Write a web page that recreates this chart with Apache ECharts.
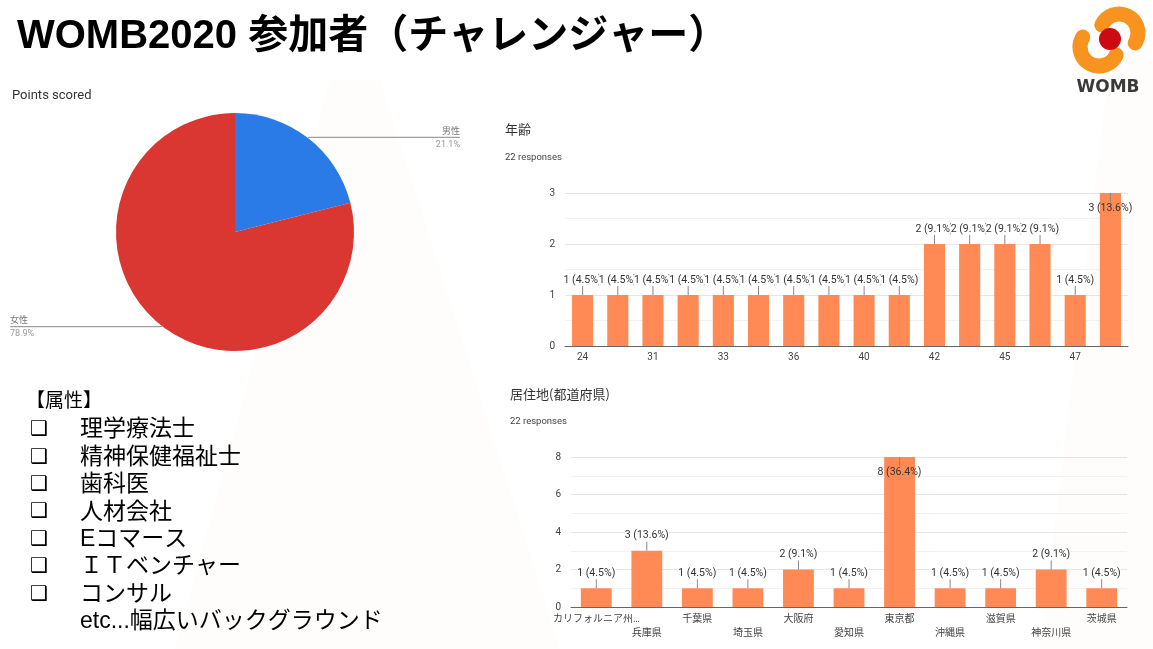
<!DOCTYPE html>
<html>
<head>
<meta charset="utf-8">
<script src="https://cdn.jsdelivr.net/npm/echarts@6/dist/echarts.min.js"></script>
<style>
html,body{margin:0;padding:0;background:#fff;}
#c{width:1153px;height:649px;}
</style>
</head>
<body>
<div id="c"></div>
<script>
// ---- data ----
const titleText = 'WOMB2020 参加者（チャレンジャー）';
const pieTitle = 'Points scored';
const pieNames = ['男性', '女性'];
const pieValues = [4, 15];

const ageTitle = '年齢';
const ageResponses = '22 responses';
const ageCategories = ['24', '30', '31', '32', '33', '35', '36', '38', '40', '41', '42', '43', '45', '46', '47', '50'];
const ageCounts = [1, 1, 1, 1, 1, 1, 1, 1, 1, 1, 2, 2, 2, 2, 1, 3];
const ageTicks = [0, 1, 2, 3];

const prefTitle = '居住地(都道府県)';
const prefResponses = '22 responses';
const prefCategories = ['カリフォルニア州…', '兵庫県', '千葉県', '埼玉県', '大阪府', '愛知県', '東京都', '沖縄県', '滋賀県', '神奈川県', '茨城県'];
const prefCounts = [1, 3, 1, 1, 2, 1, 8, 1, 1, 2, 1];
const prefTicks = [0, 2, 4, 6, 8];

const attrHeader = '【属性】';
const attrItems = ['理学療法士', '精神保健福祉士', '歯科医', '人材会社', 'Eコマース', 'ＩＴベンチャー', 'コンサル'];
const attrTail = 'etc...幅広いバックグラウンド';

// ---- helpers ----
const BAR = '#FF8A55';
const AX_FONT = 'Roboto, "Noto Sans CJK JP", sans-serif';

function annotSeries(idx, counts, yMax, withBg) {
  const total = counts.reduce((a, b) => a + b, 0);
  return {
    type: 'custom', xAxisIndex: idx, yAxisIndex: idx, z: 5, silent: true,
    data: counts.map((v, i) => [i, v]),
    renderItem: function (params, api) {
      const v = api.value(1);
      const p = api.coord([api.value(0), v]);
      const txt = v + ' (' + (v / total * 100).toFixed(1) + '%)';
      const inside = v >= yMax;
      const dir = inside ? 1 : -1;
      return {
        type: 'group',
        children: [
          { type: 'line', shape: { x1: p[0], y1: p[1], x2: p[0], y2: p[1] + dir * 9 },
            style: { stroke: '#888', lineWidth: 1 } },
          { type: 'text', x: p[0], y: p[1] + dir * 15,
            style: { text: txt, align: 'center', verticalAlign: 'middle',
              fontSize: 10.5, fontFamily: AX_FONT, fill: '#333',
              backgroundColor: (withBg && !inside) ? '#fff' : null } }
        ]
      };
    }
  };
}

const chart = echarts.init(document.getElementById('c'), null, { renderer: 'canvas' });

const graphics = [];
// faint background shapes
graphics.push({ type: 'polygon', z: -10, silent: true, shape: { points: [[175, 649], [330, 80], [380, 80], [560, 649]] }, style: { fill: '#fefdfb' } });
graphics.push({ type: 'polygon', z: -10, silent: true, shape: { points: [[1040, 649], [1110, 60], [1153, 60], [1153, 649]] }, style: { fill: '#fefdfb' } });
// title
graphics.push({ type: 'text', left: 17, top: 17, style: { text: titleText, font: 'bold 40px "Liberation Sans", "Noto Sans CJK JP", sans-serif', fill: '#000' } });
graphics.push({ type: 'text', left: 12, top: 89, style: { text: pieTitle, font: '13px Roboto, sans-serif', fill: '#333' } });
// chart titles
graphics.push({ type: 'text', left: 505, top: 123, style: { text: ageTitle, font: '13px "Noto Sans CJK JP", sans-serif', fill: '#333' } });
graphics.push({ type: 'text', left: 505, top: 153, style: { text: ageResponses, font: '9.5px Roboto, sans-serif', fill: '#444' } });
graphics.push({ type: 'text', left: 510, top: 388, style: { text: prefTitle, font: '13px "Noto Sans CJK JP", sans-serif', fill: '#333' } });
graphics.push({ type: 'text', left: 510, top: 417, style: { text: prefResponses, font: '9.5px Roboto, sans-serif', fill: '#444' } });
// attribute list
graphics.push({ type: 'text', x: 26, y: 402, style: { text: attrHeader, font: '19px "Liberation Sans", "Noto Sans CJK JP", sans-serif', fill: '#000', verticalAlign: 'middle' } });
attrItems.forEach((t, i) => {
  const y = 430 + i * 27.4;
  graphics.push({ type: 'text', x: 30, y: y, style: { text: '❑', font: '20px "DejaVu Sans", sans-serif', fill: '#000', verticalAlign: 'middle' } });
  graphics.push({ type: 'text', x: 80, y: y, style: { text: t, font: '23px "Liberation Sans", "Noto Sans CJK JP", sans-serif', fill: '#000', verticalAlign: 'middle' } });
});
graphics.push({ type: 'text', x: 80, y: 430 + 7 * 27.4, style: { text: attrTail, font: '23px "Liberation Sans", "Noto Sans CJK JP", sans-serif', fill: '#000', verticalAlign: 'middle' } });
// logo
graphics.push({ type: 'arc', shape: { cx: 1119, cy: 33, r: 19, startAngle: -2.7, endAngle: 0.55, clockwise: true }, style: { stroke: '#F7931E', lineWidth: 15, lineCap: 'round', fill: null } });
graphics.push({ type: 'arc', shape: { cx: 1099, cy: 47, r: 19, startAngle: 0.44, endAngle: 3.69, clockwise: true }, style: { stroke: '#F7931E', lineWidth: 15, lineCap: 'round', fill: null } });
graphics.push({ type: 'circle', shape: { cx: 1110, cy: 39, r: 11 }, style: { fill: '#CC0A14' } });
graphics.push({ type: 'text', x: 1108, y: 88, style: { text: 'WOMB', font: 'bold 17px "DejaVu Sans", sans-serif', fill: '#3a3a3a', align: 'center', verticalAlign: 'middle' } });

function yAxisDef(idx, ticks) {
  return {
    type: 'value', gridIndex: idx, min: ticks[0], max: ticks[ticks.length - 1], interval: ticks[1] - ticks[0],
    axisLine: { show: false }, axisTick: { show: false },
    axisLabel: { fontSize: 10, color: '#444', margin: 10, fontFamily: AX_FONT },
    splitLine: { lineStyle: { color: '#e6e6e6' } },
    minorTick: { show: false, splitNumber: 2 },
    minorSplitLine: { show: true, lineStyle: { color: '#f2f2f2' } }
  };
}

const option = {
  backgroundColor: '#fff',
  animation: false,
  graphic: graphics,
  grid: [
    { left: 565, right: 25, top: 193, bottom: 303, containLabel: false },
    { left: 571, right: 26, top: 457, bottom: 42, containLabel: false }
  ],
  xAxis: [
    { type: 'category', gridIndex: 0, data: ageCategories,
      axisLine: { lineStyle: { color: '#666' } }, axisTick: { show: false },
      axisLabel: { interval: 1, fontSize: 10, color: '#444', margin: 6, fontFamily: AX_FONT } },
    { type: 'category', gridIndex: 1, data: prefCategories,
      axisLine: { lineStyle: { color: '#666' } }, axisTick: { show: false },
      axisLabel: { interval: 0, fontSize: 10, color: '#444', margin: 5, lineHeight: 14, fontFamily: AX_FONT,
        formatter: (v, i) => (i % 2 === 1 ? '\n' + v : v) } }
  ],
  yAxis: [yAxisDef(0, ageTicks), yAxisDef(1, prefTicks)],
  series: [
    {
      type: 'pie', left: 10, top: 0, width: 450, height: 649,
      center: [225, 232], radius: 119, startAngle: 90, clockwise: true,
      percentPrecision: 1, silent: true,
      data: pieNames.map((n, i) => ({ name: n, value: pieValues[i] })),
      color: ['#2A7BE8', '#DA3733'],
      label: {
        position: 'outer', alignTo: 'edge', edgeDistance: 0, distanceToLabelLine: -24,
        formatter: '{n|{b}}\n{p|{d}%}',
        rich: {
          n: { fontSize: 9, color: '#777', lineHeight: 14, fontFamily: '"Noto Sans CJK JP", sans-serif' },
          p: { fontSize: 9, color: '#999', lineHeight: 14, fontFamily: AX_FONT }
        }
      },
      labelLine: { show: true, length: 1, length2: 10, lineStyle: { color: '#888', width: 1 } },
      itemStyle: { borderWidth: 0 }
    },
    { type: 'bar', xAxisIndex: 0, yAxisIndex: 0, data: ageCounts, barWidth: '60%', itemStyle: { color: BAR }, silent: true },
    { type: 'bar', xAxisIndex: 1, yAxisIndex: 1, data: prefCounts, barWidth: '61%', itemStyle: { color: BAR }, silent: true },
    annotSeries(0, ageCounts, ageTicks[ageTicks.length - 1], true),
    annotSeries(1, prefCounts, prefTicks[prefTicks.length - 1], true)
  ]
};
chart.setOption(option);
</script>
</body>
</html>
